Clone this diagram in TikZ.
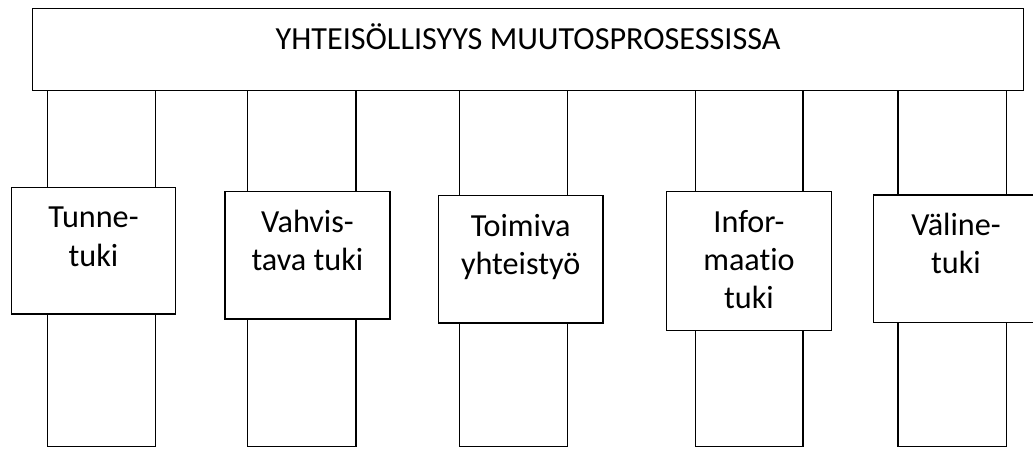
\documentclass[tikz,border=0pt]{standalone}
\usepackage{fontspec}
\setmainfont{Carlito}[Ligatures=NoCommon]
\begin{document}
\begin{tikzpicture}[x=1pt,y=-1pt, line width=1.3pt,
  frame/.style={draw, fill=white, inner sep=0pt, anchor=north west},
  txt/.style={anchor=north, inner sep=0pt, align=center, font=\fontsize{32.2}{38.4}\selectfont}]
\useasboundingbox (0,0) rectangle (1033,448);
% title
\node[frame, minimum width=991pt, minimum height=82pt] (top) at (32,8) {};
\node[txt] (toptxt) at ([yshift=-12.3pt]top.north) {\rule{0pt}{29pt}YHTEISÖLLISYYS MUUTOSPROSESSISSA};
% label boxes
\node[frame, minimum width=164.3pt, minimum height=126.6pt] (b1) at (10.7,186.7) {};
\node[frame, minimum width=165pt, minimum height=127.3pt] (b2) at (224.3,191) {};
\node[frame, minimum width=164.6pt, minimum height=127.3pt] (b3) at (437.7,195) {};
\node[frame, minimum width=164.7pt, minimum height=139pt] (b4) at (666,191) {};
\node[frame, minimum width=190pt, minimum height=127.4pt] (b5) at (873,194.3) {};
\node[txt] (t1) at ([yshift=-11.5pt]b1.north) {\rule{0pt}{29pt}Tunne-\\tuki};
\node[txt] (t2) at ([yshift=-11.5pt]b2.north) {\rule{0pt}{29pt}Vahvis-\\tava tuki};
\node[txt] (t3) at ([yshift=-11.5pt]b3.north) {\rule{0pt}{29pt}Toimiva\\yhteistyö};
\node[txt] (t4) at ([yshift=-11.5pt]b4.north) {\rule{0pt}{29pt}Infor-\\maatio\\tuki};
\node[txt] (t5) at ([xshift=83pt,yshift=-11.5pt]b5.north west) {\rule{0pt}{29pt}Väline-\\tuki};
% pillar feet
\coordinate (p1l) at (47.7,446.8); \coordinate (p1r) at (155.7,446.8);
\coordinate (p2l) at (247.7,446.8); \coordinate (p2r) at (356,446.8);
\coordinate (p3l) at (459.3,446.8); \coordinate (p3r) at (567.7,446.8);
\coordinate (p4l) at (695.7,446.8); \coordinate (p4r) at (803,446.8);
\coordinate (p5l) at (898,446.8); \coordinate (p5r) at (1006.3,446.8);
\foreach \i in {1,...,5}{
  \draw (p\i l |- top.south) -- (p\i l |- b\i.north);
  \draw (p\i r |- top.south) -- (p\i r |- b\i.north);
  \draw (p\i l |- b\i.south) -- (p\i l) -- (p\i r) -- (p\i r |- b\i.south);
}
\end{tikzpicture}
\end{document}
